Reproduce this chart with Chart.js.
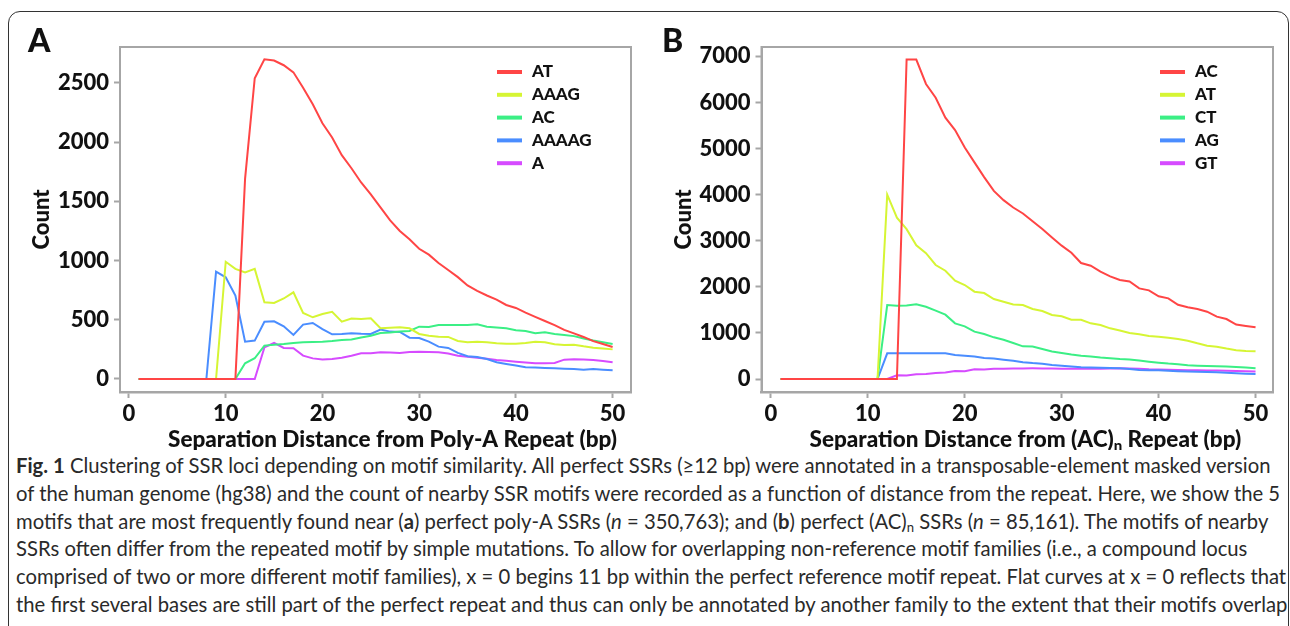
<!DOCTYPE html>
<html>
<head>
<meta charset="utf-8">
<script src="https://cdn.jsdelivr.net/npm/chart.js@4.4.0/dist/chart.umd.min.js"></script>
<style>
    html, body { margin: 0; padding: 0; background: #fff; width: 1290px; height: 626px; overflow: hidden; position: relative; font-family: Lato, sans-serif; }
    #frame { position: absolute; left: 8px; top: 11px; width: 1281px; height: 700px; border: 1.5px solid #333; border-radius: 12px; box-sizing: border-box; }
    .panel { position: absolute; top: 0; }
    #chartA { left: 0; }
    #chartB { left: 645px; }
    .letter { position: absolute; top: 20px; font: 900 32px Lato, sans-serif; color: #111; }
    #caption { position: absolute; left: 16px; top: 452px; font-size: 18px; line-height: 27.8px; color: #2a2a2a; }
    #caption div { height: 27.8px; white-space: nowrap; }
    sub { font-size: 0.65em; vertical-align: -0.25em; line-height: 0; }
</style>
</head>
<body>
<div id="frame"></div>
<canvas id="chartA" class="panel" width="645" height="450"></canvas>
<canvas id="chartB" class="panel" width="645" height="450"></canvas>
<div class="letter" style="left:28px">A</div>
<div class="letter" style="left:662px">B</div>
<div id="caption">
<div><span id="cap1"><b>Fig. 1</b> Clustering of SSR loci depending on motif similarity. All perfect SSRs (≥12 bp) were annotated in a transposable-element masked version</span></div>
<div>of the human genome (hg38) and the count of nearby SSR motifs were recorded as a function of distance from the repeat. Here, we show the 5</div>
<div>motifs that are most frequently found near (<b>a</b>) perfect poly-A SSRs (<i>n</i> = 350,763); and (<b>b</b>) perfect (AC)<sub>n</sub> SSRs (<i>n</i> = 85,161). The motifs of nearby</div>
<div>SSRs often differ from the repeated motif by simple mutations. To allow for overlapping non-reference motif families (i.e., a compound locus</div>
<div>comprised of two or more different motif families), x = 0 begins 11 bp within the perfect reference motif repeat. Flat curves at x = 0 reflects that</div>
<div>the first several bases are still part of the perfect repeat and thus can only be annotated by another family to the extent that their motifs overlap</div>
</div>
<script>
// separation distance (bp)
const distance = [1,2,3,4,5,6,7,8,9,10,11,12,13,14,15,16,17,18,19,20,21,22,23,24,25,26,27,28,29,30,31,32,33,34,35,36,37,38,39,40,41,42,43,44,45,46,47,48,49,50];

// panel A: near poly-A repeats
const motifsA = ['AT', 'AAAG', 'AC', 'AAAAG', 'A'];
const countA_AT = [0,0,0,0,0,0,0,0,0,0,0,1690,2540,2700,2690,2650,2590,2460,2320,2160,2040,1890,1780,1660,1560,1450,1340,1250,1180,1100,1050,980,920,860,790,745,705,670,625,600,560,525,490,455,415,385,355,320,295,270];
const countA_AAAG = [0,0,0,0,0,0,0,0,0,990,930,900,930,648,642,680,732,557,521,549,568,484,510,507,512,428,433,436,428,380,366,357,355,321,310,315,310,301,298,298,304,315,310,293,287,290,276,264,258,250];
const countA_AC = [0,0,0,0,0,0,0,0,0,0,0,132,175,282,290,296,304,310,313,315,320,330,333,350,365,389,392,400,405,442,439,456,455,455,456,462,442,435,428,411,405,386,394,380,372,362,342,325,310,296];
const countA_AAAAG = [0,0,0,0,0,0,0,0,906,859,704,315,324,484,487,445,372,459,473,422,377,380,386,382,380,417,400,397,349,346,315,273,262,220,192,186,169,141,127,113,99,96,93,90,87,84,79,84,78,73];
const countA_A = [0,0,0,0,0,0,0,0,0,0,0,0,0,267,304,262,259,197,174,165,168,180,197,217,218,225,224,219,228,231,228,225,215,197,188,180,170,160,153,146,140,132,132,135,163,167,164,160,152,141];

// panel B: near (AC)n repeats
const motifsB = ['AC', 'AT', 'CT', 'AG', 'GT'];
const countB_AC = [0,0,0,0,0,0,0,0,0,0,0,0,0,6930,6930,6400,6100,5670,5400,5020,4700,4380,4080,3880,3720,3590,3420,3254,3070,2892,2740,2516,2458,2328,2227,2147,2115,1966,1923,1793,1750,1610,1555,1519,1460,1352,1301,1180,1150,1121];
const countB_AT = [0,0,0,0,0,0,0,0,0,0,0,3998,3500,3250,2900,2730,2473,2349,2132,2039,1894,1865,1735,1677,1616,1605,1518,1475,1388,1360,1286,1286,1208,1171,1099,1050,1000,970,935,918,895,868,831,774,723,701,660,625,610,600];
const countB_CT = [0,0,0,0,0,0,0,0,0,0,0,1605,1590,1595,1620,1568,1482,1395,1207,1142,1027,976,904,850,780,708,705,650,595,565,530,506,490,465,450,435,425,400,376,355,335,320,300,289,282,276,270,260,248,232];
const countB_AG = [0,0,0,0,0,0,0,0,0,0,0,557,558,560,560,558,560,560,521,505,490,455,445,420,395,365,345,330,305,289,270,255,250,246,240,232,215,195,190,188,178,168,162,158,152,145,135,125,115,108];
const countB_GT = [0,0,0,0,0,0,0,0,0,0,0,0,80,75,105,110,130,140,175,170,210,205,220,225,228,230,232,230,228,225,222,222,220,222,228,235,230,220,210,205,200,195,190,188,185,182,178,172,168,165];

const yTicksA = [0, 500, 1000, 1500, 2000, 2500];
const yTicksB = [0, 1000, 2000, 3000, 4000, 5000, 6000, 7000];
const xTicks = [0, 10, 20, 30, 40, 50];

const colors = ['#ff4545', '#d6f534', '#3bef85', '#4a8dff', '#d64bff'];
const GRAY = '#a6a6a6';
const FONT = 'Lato, sans-serif';

const decor = {
    id: 'decor',
    afterDatasetsDraw(chart, args, opts) {
        const { ctx, chartArea: a } = chart;
        ctx.save();
        ctx.strokeStyle = GRAY;
        ctx.lineWidth = 2;
        ctx.strokeRect(a.left, a.top, a.right - a.left, a.bottom - a.top);

        // legend inside the plot, top right
        ctx.font = '900 17px ' + FONT;
        ctx.textBaseline = 'middle';
        ctx.textAlign = 'left';
        chart.data.datasets.forEach((ds, i) => {
            const y = opts.legendY + i * 22.8;
            ctx.strokeStyle = ds.borderColor;
            ctx.lineWidth = 4;
            ctx.beginPath();
            ctx.moveTo(opts.legendX, y);
            ctx.lineTo(opts.legendX + 25, y);
            ctx.stroke();
            ctx.fillStyle = '#111';
            ctx.fillText(ds.label, opts.legendX + 35, y);
        });

        // x axis title (with subscript parts)
        let x = a.left + opts.titleOffset;
        const y = opts.titleY;
        ctx.fillStyle = '#111';
        opts.title.forEach(part => {
            ctx.font = '900 ' + (part.sub ? 15 : 22.5) + 'px ' + FONT;
            ctx.fillText(part.text, x, part.sub ? y + 6 : y);
            x += ctx.measureText(part.text).width;
        });
        ctx.restore();
    }
};

function buildChart(id, names, series, yTicks, yMin, yMax, xMin, xMax, axisW, padRight, countPad, legendX, title) {
    const ctx = document.getElementById(id).getContext('2d');
    return new Chart(ctx, {
        type: 'line',
        data: {
            datasets: series.map((vals, i) => ({
                label: names[i],
                data: vals.map((v, j) => ({ x: distance[j], y: v })),
                borderColor: colors[i],
                borderWidth: 2,
                pointRadius: 0,
                tension: 0,
                fill: false,
            })),
        },
        options: {
            responsive: false,
            animation: false,
            events: [],
            layout: { padding: { left: 0, top: 47, right: padRight, bottom: 0 } },
            plugins: {
                legend: { display: false },
                tooltip: { enabled: false },
                decor: { legendX: legendX, legendY: 72, titleOffset: 48, titleY: 440, title: title },
            },
            scales: {
                x: {
                    type: 'linear',
                    min: xMin,
                    max: xMax,
                    afterBuildTicks: s => { s.ticks = xTicks.map(v => ({ value: v })); },
                    afterFit: s => { s.height = 58; },
                    grid: { drawOnChartArea: false, drawTicks: true, tickLength: 6, tickColor: GRAY, tickWidth: 2 },
                    border: { color: GRAY, width: 2.5 },
                    ticks: { color: '#111', padding: 3, maxRotation: 0, callback: v => String(v), font: { family: FONT, weight: '900', size: 22 } },
                },
                y: {
                    min: yMin,
                    max: yMax,
                    afterBuildTicks: s => { s.ticks = yTicks.map(v => ({ value: v })); },
                    afterFit: s => { s.width = axisW; },
                    grid: { drawOnChartArea: false, drawTicks: true, tickLength: 6, tickColor: GRAY, tickWidth: 2 },
                    border: { color: GRAY, width: 2 },
                    ticks: { color: '#111', padding: 5, callback: v => String(v), font: { family: FONT, weight: '900', size: 22 } },
                    title: { display: true, text: 'Count', color: '#111', padding: { top: countPad, bottom: 0 }, font: { family: FONT, weight: '900', size: 22 } },
                },
            },
        },
        plugins: [decor],
    });
}

function fitCaption() {
    const w = document.getElementById('cap1').getBoundingClientRect().width;
    const cap = document.getElementById('caption');
    cap.style.fontSize = (18 * 1255 / w).toFixed(2) + 'px';
}

document.fonts.ready.then(() => {
    fitCaption();
    buildChart('chartA', motifsA,
        [countA_AT, countA_AAAG, countA_AC, countA_AAAAG, countA_A],
        yTicksA, -110, 2804, -0.93, 51.9, 120, 14, 29, 497,
        [{ text: 'Separation Distance from Poly-A Repeat (bp)' }]);
    buildChart('chartB', motifsB,
        [countB_AC, countB_AT, countB_CT, countB_AG, countB_GT],
        yTicksB, -282, 7202, -0.97, 51.8, 116.5, 17, 26, 515,
        [{ text: 'Separation Distance from (AC)' }, { text: 'n', sub: true }, { text: ' Repeat (bp)' }]);
});
</script>
</body>
</html>
